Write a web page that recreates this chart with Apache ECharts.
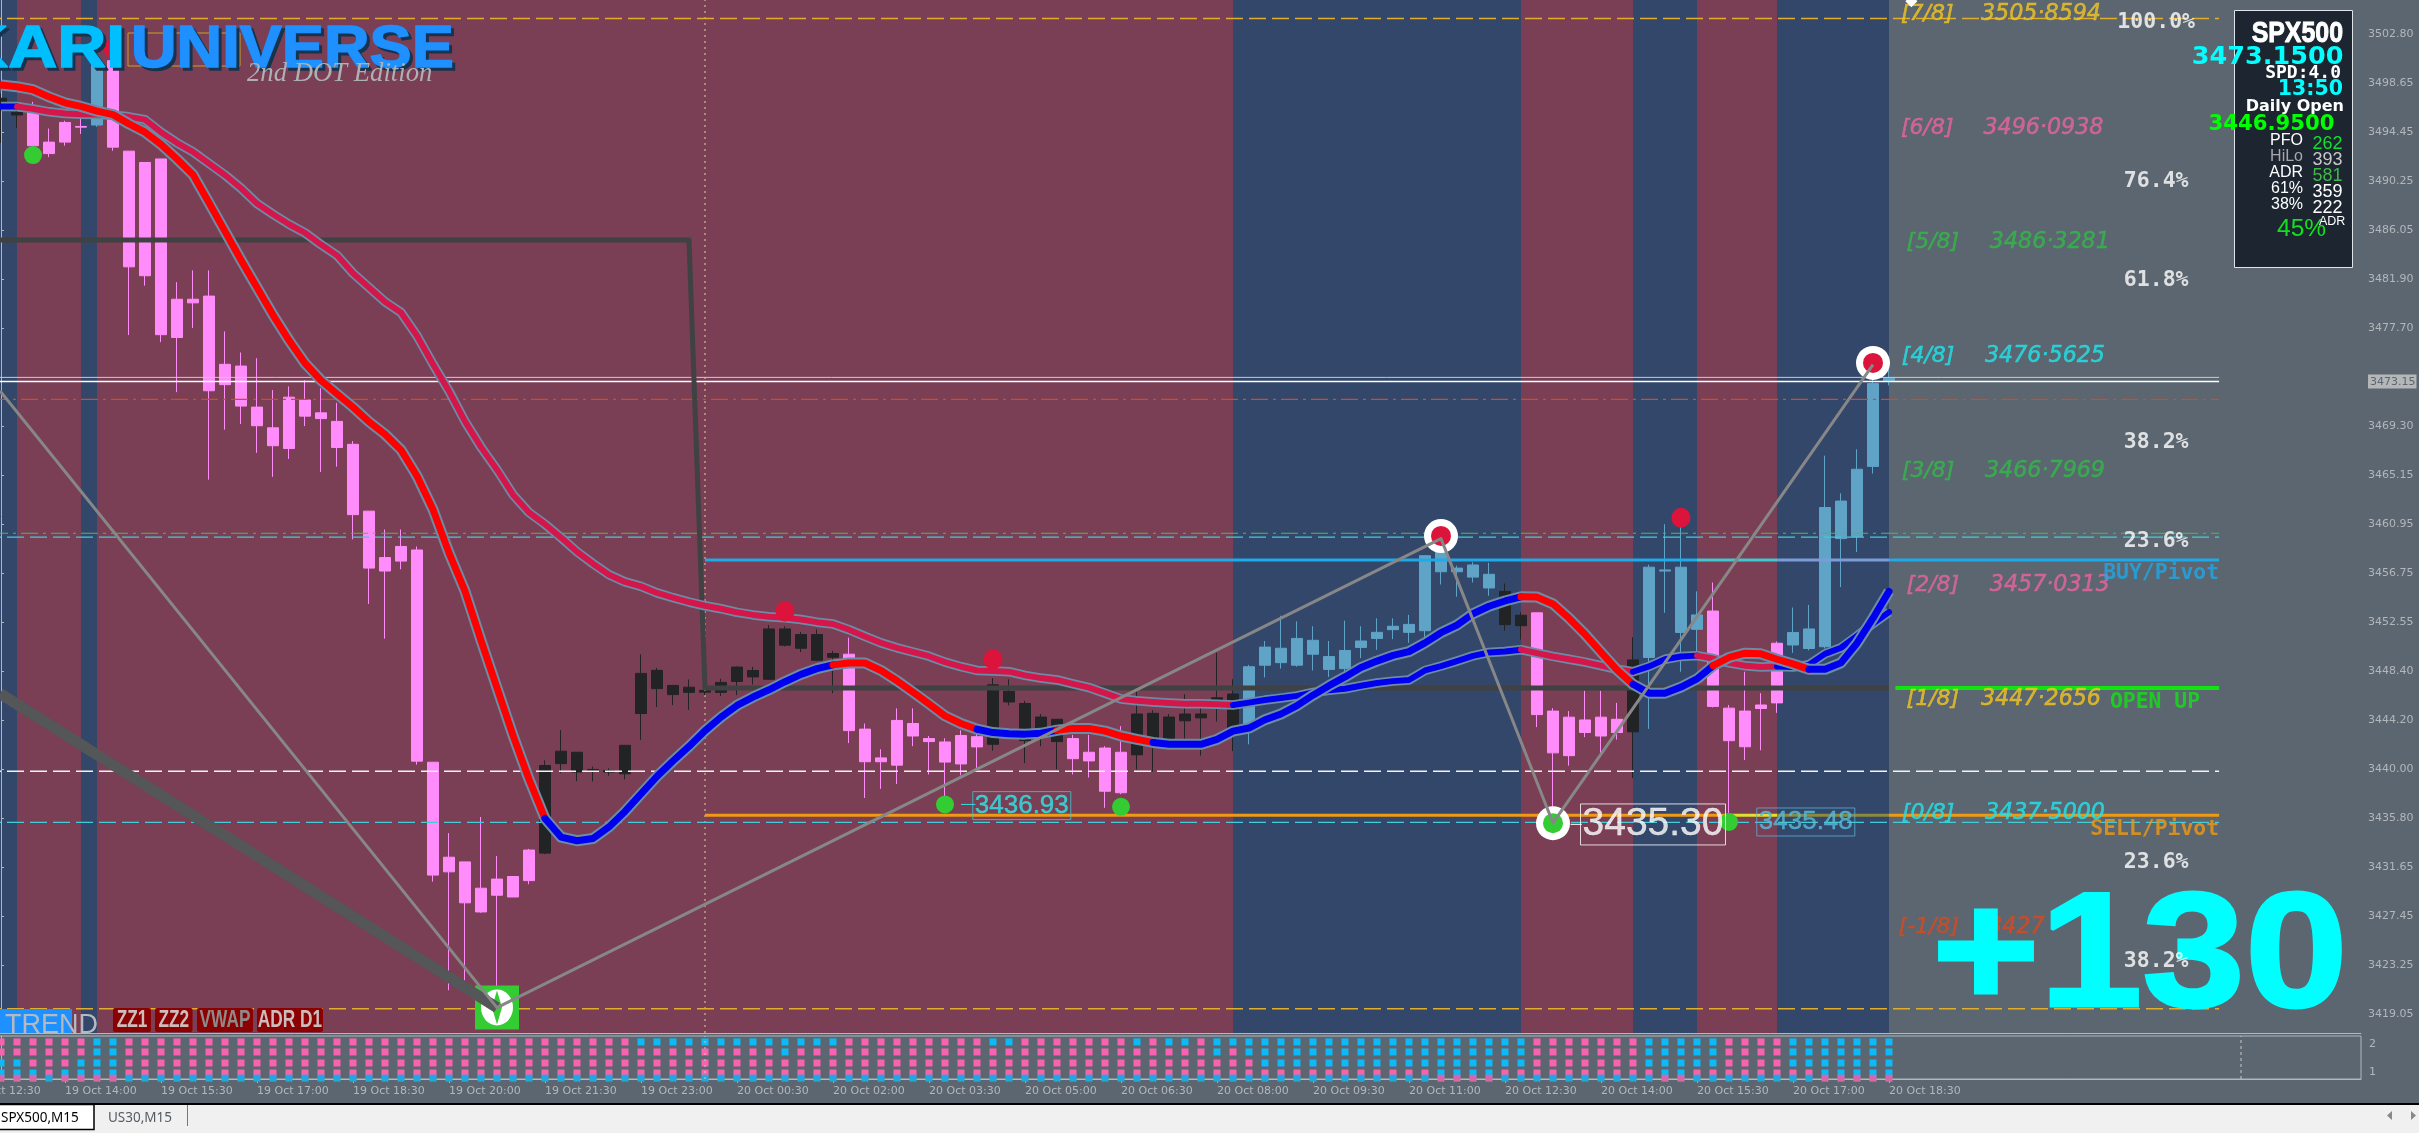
<!DOCTYPE html>
<html><head><meta charset="utf-8">
<script src="https://cdn.jsdelivr.net/npm/echarts@6/dist/echarts.min.js"></script>
<style>html,body{margin:0;padding:0;background:#5b6670;overflow:hidden}#c{width:2419px;height:1133px}</style>
</head><body><div id="c"></div>
<script>
// ---------- data ----------
const xTickLabels=['19 Oct 12:30','19 Oct 14:00','19 Oct 15:30','19 Oct 17:00','19 Oct 18:30','19 Oct 20:00','19 Oct 21:30','19 Oct 23:00','20 Oct 00:30','20 Oct 02:00','20 Oct 03:30','20 Oct 05:00','20 Oct 06:30','20 Oct 08:00','20 Oct 09:30','20 Oct 11:00','20 Oct 12:30','20 Oct 14:00','20 Oct 15:30','20 Oct 17:00','20 Oct 18:30'];
const yTickValues=[3502.80,3498.65,3494.45,3490.25,3486.05,3481.90,3477.70,3473.15,3469.30,3465.15,3460.95,3456.75,3452.55,3448.40,3444.20,3440.00,3435.80,3431.65,3427.45,3423.25,3419.05];
// body top, body bottom, low, high for every M15 bar
const candles=[
[3497.36,3496.75,3493.55,3497.76],[3496.14,3495.93,3494.83,3496.6],[3496.6,3493.3,3492.48,3497.06],[3493.61,3492.63,3492.33,3494.77],[3495.29,3493.61,3493.3,3495.44],[3494.95,3494.89,3494.31,3495.68],[3500.26,3495.07,3494.92,3501.18],[3500.57,3493.18,3492.87,3502.1],[3492.84,3482.95,3477.12,3492.84],[3491.87,3482.19,3481.34,3491.87],
[3492.17,3477.15,3476.51,3492.17],[3480.18,3476.91,3472.24,3481.64],[3480.18,3479.87,3477.73,3482.65],[3480.45,3472.36,3464.76,3482.65],[3474.62,3472.88,3469.03,3477.43],[3474.47,3471.05,3469.52,3475.63],[3470.96,3469.37,3467.05,3475.14],[3469.19,3467.66,3465.0,3472.42],[3471.81,3467.42,3466.53,3472.73],[3471.57,3470.19,3469.34,3473.25],
[3470.47,3469.98,3465.41,3472.58],[3469.74,3467.51,3465.87,3471.32],[3467.78,3461.77,3459.66,3468.06],[3462.07,3457.2,3454.14,3462.07],[3458.1,3456.95,3451.17,3460.5],[3459.05,3457.8,3457.1,3460.5],[3458.75,3440.7,3440.4,3459.05],[3440.61,3430.96,3430.4,3440.61],[3432.49,3431.24,3421.12,3434.55],[3432.09,3428.59,3421.97,3432.09],
[3429.84,3427.81,3427.74,3435.93],[3430.62,3429.24,3421.34,3432.59],[3430.84,3429.09,3429.09,3430.84],[3433.1,3430.49,3430.18,3433.2],[3440.33,3432.84,3432.74,3440.77],[3441.55,3440.49,3439.68,3443.36],[3441.46,3439.77,3438.99,3441.46],[3439.99,3439.86,3438.96,3440.24],[3439.9,3439.77,3439.46,3440.08],[3442.05,3439.62,3439.15,3442.05],
[3448.2,3444.77,3442.52,3449.83],[3448.46,3446.9,3445.33,3448.67],[3447.17,3446.39,3445.49,3447.17],[3447.02,3446.58,3445.08,3447.68],[3446.75,3446.6,3446.27,3447.0],[3447.43,3446.58,3446.27,3447.74],[3448.74,3447.51,3446.34,3448.8],[3448.45,3447.9,3447.25,3448.77],[3452.0,3447.7,3447.64,3452.33],[3452.0,3450.61,3450.5,3452.23],
[3451.52,3450.35,3450.03,3451.74],[3451.52,3449.32,3449.25,3451.97],[3449.9,3449.58,3446.51,3450.13],[3449.84,3443.31,3442.24,3451.26],[3443.44,3440.65,3437.55,3443.92],[3440.98,3440.65,3438.33,3441.72],[3444.18,3440.36,3438.75,3445.21],[3443.92,3442.85,3441.98,3445.21],[3442.63,3442.37,3439.56,3442.85],[3442.34,3440.62,3437.62,3442.66],
[3442.89,3440.46,3439.49,3443.34],[3442.79,3441.92,3439.88,3443.11],[3447.22,3442.14,3441.59,3447.8],[3446.67,3445.76,3445.47,3447.7],[3445.63,3442.46,3440.53,3445.86],[3444.47,3443.11,3441.98,3444.73],[3444.28,3442.37,3440.01,3444.28],[3442.63,3440.91,3439.56,3442.95],[3441.46,3440.72,3439.3,3442.95],[3441.82,3438.13,3436.71,3441.98],
[3441.46,3438.0,3437.87,3443.69],[3444.73,3441.24,3439.98,3446.67],[3444.79,3442.3,3439.81,3445.05],[3444.47,3442.63,3442.5,3444.73],[3444.73,3444.15,3442.63,3446.41],[3444.73,3444.4,3441.17,3446.02],[3446.12,3445.86,3444.08,3449.97],[3446.44,3443.43,3441.56,3447.7],[3448.77,3443.82,3442.14,3448.93],[3450.45,3448.9,3447.86,3450.97],
[3450.35,3449.12,3448.61,3453.13],[3451.19,3448.9,3448.77,3452.65],[3451.03,3449.84,3448.45,3452.23],[3449.64,3448.54,3447.9,3450.97],[3450.16,3448.61,3447.7,3452.71],[3450.97,3450.42,3449.51,3452.23],[3451.71,3451.19,3450.22,3452.91],[3452.23,3451.94,3451.13,3452.91],[3452.39,3451.71,3450.81,3453.2],[3458.26,3451.85,3451.15,3458.26],
[3458.87,3456.89,3455.8,3458.87],[3457.2,3456.89,3454.75,3457.41],[3457.47,3456.43,3455.97,3457.71],[3456.67,3455.5,3454.84,3457.65],[3455.21,3452.37,3451.85,3455.88],[3453.17,3452.28,3451.09,3453.44],[3453.38,3444.68,3443.61,3453.38],[3444.98,3441.41,3435.67,3445.23],[3444.46,3441.17,3440.31,3444.98],[3444.22,3443.15,3442.75,3446.72],
[3444.46,3442.85,3441.32,3446.72],[3444.28,3443.15,3442.54,3445.68],[3449.35,3443.21,3439.25,3451.3],[3457.28,3449.56,3443.46,3457.5],[3457.04,3456.95,3453.38,3460.95],[3457.28,3451.7,3448.34,3460.86],[3453.2,3451.97,3450.02,3455.21],[3453.53,3445.38,3445.29,3455.97],[3445.23,3442.45,3436.28,3445.5],[3444.98,3441.93,3440.8,3448.34],
[3445.5,3445.2,3441.63,3446.51],[3450.78,3445.68,3444.83,3450.93],[3451.7,3450.63,3449.96,3453.83],[3452.0,3450.33,3450.17,3454.05],[3462.38,3450.48,3450.33,3466.81],[3462.93,3459.72,3455.58,3463.6],[3465.65,3459.91,3458.57,3467.36],[3472.97,3465.89,3465.28,3474.14],[3473.46,3473.16,3472.82,3474.14]];
const candleKindRuns=[['k',2],['p',4],['b',1],['p',27],['k',19],['p',9],['k',5],['p',4],['k',7],['b',16],['k',2],['p',6],['k',1],['b',4],['p',5],['b',7]];
const fastMA=[3498.49,3498.34,3498.09,3497.48,3496.97,3496.66,3496.26,3495.96,3495.17,3494.46,3493.42,3492.17,3490.83,3488.42,3485.98,3483.53,3481.18,3478.83,3476.67,3474.71,3473.25,3472.09,3470.96,3469.71,3468.64,3467.3,3465.07,3462.2,3458.5,3455.23,3451.02,3446.96,3442.9,3439.15,3435.8,3434.21,3433.9,3434.09,3435.08,3436.4,3437.9,3439.4,3440.71,3441.96,3443.3,3444.46,3445.46,3446.18,3446.8,3447.49,3448.12,3448.61,3448.93,3449.09,3449.09,3448.45,3447.57,3446.6,3445.6,3444.57,3443.92,3443.43,3443.14,3443.05,3443.01,3443.08,3443.34,3443.5,3443.5,3443.27,3442.85,3442.56,3442.3,3442.14,3442.14,3442.14,3442.56,3443.27,3443.53,3444.24,3444.73,3445.44,3446.34,3447.15,3447.9,3448.7,3449.25,3449.74,3450.06,3450.81,3451.68,3452.33,3453.3,3453.94,3454.39,3454.75,3454.72,3454.14,3452.92,3451.55,3450.02,3448.5,3447.27,3446.51,3446.51,3447.03,3447.73,3448.86,3449.56,3449.93,3449.87,3449.41,3449.01,3448.55,3448.55,3449.1,3450.78,3452.92,3455.21];
const slowMA=[3496.66,3496.66,3496.45,3496.2,3496.05,3495.99,3495.96,3495.9,3495.77,3495.53,3494.46,3493.55,3492.78,3491.78,3490.8,3489.67,3488.36,3487.44,3486.59,3485.85,3484.85,3483.93,3482.4,3481.18,3479.96,3479.05,3477.06,3474.62,3472.33,3469.74,3467.54,3465.61,3463.48,3461.95,3460.95,3459.81,3458.6,3457.58,3456.64,3456.02,3455.64,3455.08,3454.67,3454.3,3453.98,3453.73,3453.42,3453.2,3453.05,3452.95,3452.81,3452.58,3452.42,3451.94,3451.36,3450.81,3450.39,3450.03,3449.67,3449.16,3448.77,3448.45,3448.41,3448.35,3448.03,3447.8,3447.64,3447.31,3446.99,3446.51,3446.02,3445.86,3445.76,3445.67,3445.6,3445.6,3445.57,3445.5,3445.7,3445.92,3446.09,3446.28,3446.57,3446.76,3446.89,3447.15,3447.38,3447.54,3447.64,3448.45,3448.83,3449.25,3449.7,3449.99,3450.08,3450.23,3449.93,3449.65,3449.41,3449.17,3448.86,3448.55,3448.34,3448.8,3449.41,3449.65,3449.72,3449.47,3449.1,3448.86,3448.74,3448.8,3448.74,3448.95,3449.87,3450.39,3451.4,3452.46,3453.44];
const fastTurns=[0,34,52,61,66,72,95,102,107,113,118];   // starts red
const slowTurns=[0,1,77,95,102,106,111,118];             // starts blue
const trendBandEdges=[-2.5,1,5,6,77,95,102,106,111,118]; // starts blue
const stepHighBarEnd=43, stepHigh=3485.24, stepLow=3446.95;
const levelWhite=[3473.15,3473.5], levelRedDash=3471.63, levelGreenDash=3460.18, levelCyanDash=[3459.85,3435.46], levelWhiteDash=3439.84, levelGold=[3504.17,3419.54];
const buyPivot=3457.9, sellPivot=3436.07, openLine=3446.95;
const pivotStart=44, levelEnd=138.63;
const buyPivotEdges=[44,106,111,118,138.63], sellPivotEdges=[44,108,111,118,138.63];
const zigzag=[[-0.06,3472.34],[31,3419.63],[90,3459.72],[97,3435.42],[117,3474.6]];
const thickTrend=[[-0.06,3446.49],[31,3419.63]];
const greenDots=[[2,3492.5],[59,3437.0],[70,3436.8],[108,3435.5]];
const redDots=[[7,3501.65],[49,3453.5],[62,3449.4],[105,3461.5]];
const ringRed=[[90,3459.95],[117,3474.74]], ringGreen=[[97,3435.4]];
const murreyTags=['[7/8]','[6/8]','[5/8]','[4/8]','[3/8]','[2/8]','[1/8]','[0/8]','[-1/8]'];
const murreyTexts=['3505·8594','3496·0938','3486·3281','3476·5625','3466·7969','3457·0313','3447·2656','3437·5000','3427'];
const murreyTagY=[3504.56,3494.82,3485.07,3475.33,3465.5,3455.76,3445.96,3436.27,3426.53];
const fibTexts=['100.0%','76.4%','61.8%','38.2%','23.6%','23.6%','38.2%'];
const fibY=[3503.88,3490.29,3481.83,3467.98,3459.52,3432.08,3423.62];
const subRowValues=[2.096,1.727,1.32,0.95,0.76];
const subRowRuns=[
[['p',6],['b',2],['p',32],['b',13],['p',9],['b',2],['p',7],['b',1],['p',1],['b',2],['p',1],['b',20],['p',7],['b',5],['p',4],['b',7]],
[['p',6],['b',2],['p',41],['b',1],['p',26],['b',1],['p',1],['b',18],['p',7],['b',5],['p',4],['b',7]],
[['b',2],['p',3],['b',3],['p',71],['b',17],['p',7],['b',5],['p',4],['b',7]],
[['b',3],['p',1],['b',4],['p',82],['b',4],['p',10],['b',2],['p',8],['b',5]],
[['p',3],['b',1],['p',4],['b',82],['p',4],['b',10],['p',2],['b',8],['p',5]]];

// ---------- style ----------
const BG='#5b6670', RED='#7a3f54', BLU='#33476b', AX='#b2b7bb';
const kindCol={p:'#ff8cfa',b:'#5fa3c7',k:'#222325'};
const expand=r=>r.flatMap(([s,n])=>Array(n).fill(s));
const kinds=expand(candleKindRuns);
const categories=[];for(let k=0;k<150;k++)categories.push(k%6===0&&xTickLabels[k/6]?xTickLabels[k/6]:'');
const candleData=[{value:['-','-','-','-']},{value:['-','-','-','-']}].concat(candles.map((c,i)=>{const col=kindCol[kinds[i]];
  return {value:[c[0],c[1],c[2],c[3]],itemStyle:{color:col,color0:col,borderColor:col,borderColor0:col,borderWidth:1}};}));
const line=(data,color,width,z,type)=>({type:'line',xAxisIndex:1,yAxisIndex:0,data,symbol:'none',silent:true,z,lineStyle:{color,width,type:type||'solid',cap:'butt',join:'round'}});
const DASH=[17,6],DD=[17,5,3,5];
const hl=(p,color,width,type,from)=>line([[from===undefined?-2.5:from,p],[levelEnd,p]],color,width,15,type);
const seg=(vals,turns,cols,z,w)=>{const out=[];for(let s=0;s+1<turns.length;s++){const d=[];for(let i=turns[s];i<=turns[s+1];i++)d.push([i,vals[i]]);
   const l=line(d,cols[s%2],w,z);l.lineStyle.cap='round';out.push(l);}return out;};
const whole=v=>v.map((y,i)=>[i,y]);
const scatter=(data,symbol,size,color,z)=>({type:'scatter',xAxisIndex:1,yAxisIndex:0,data,symbol,symbolSize:size,itemStyle:{color,opacity:1},silent:true,z});
const labels=(items,z)=>({type:'scatter',xAxisIndex:1,yAxisIndex:0,symbolSize:0,silent:true,z,data:items.map(t=>({value:[t.v,t.p],label:Object.assign({show:true,formatter:t.text,position:t.pos||'right',distance:0,color:t.color,fontFamily:t.ff||'DejaVu Sans',fontSize:t.fs,fontWeight:t.fw||'normal',fontStyle:t.st||'normal'},t.extra||{})}))});
const murCols=['#f2c522','#e8649e','#33b84a','#22e4ea','#33b84a','#e8649e','#f2c522','#22e4ea','#d84a1e'];
const tagV=[118.75,118.75,119.1,118.8,118.8,119.1,119.1,118.8,118.6], valV=[123.75,123.9,124.3,124,124,124.3,123.75,124,124.2];
const mono='DejaVu Sans Mono';

const series=[];
// trend bands
const bandPieces=[];for(let b=0;b+1<trendBandEdges.length;b++)bandPieces.push([{xAxis:trendBandEdges[b],itemStyle:{color:b%2?RED:BLU,opacity:1}},{xAxis:trendBandEdges[b+1]}]);
series.push({type:'line',xAxisIndex:1,yAxisIndex:0,data:[],z:0,silent:true,markArea:{silent:true,z:0,data:bandPieces}});
// candles
series.push({type:'candlestick',xAxisIndex:0,yAxisIndex:0,data:candleData,barWidth:11,z:10,silent:true,clip:true});
// levels
series.push(hl(levelGold[0],'#e3ad2c',1.4,DASH),hl(levelGold[1],'#e3ad2c',1.4,DASH));
series.push(hl(levelWhite[1],'#c8ccd0',1),hl(levelWhite[0],'#ffffff',1.5));
series.push(hl(levelRedDash,'#d9481f',1.2,DD),hl(levelGreenDash,'#56b84e',1.2,DD));
series.push(hl(levelCyanDash[0],'#43cbd8',1.2,DASH),hl(levelCyanDash[1],'#43cbd8',1.2,DASH));
series.push(hl(levelWhiteDash,'#f2f2f2',1.5,DASH));
['#1ea9e8','#40c8d0','#7d9bd8','#1ea9e8'].forEach((c,i)=>series.push(line([[buyPivotEdges[i],buyPivot],[buyPivotEdges[i+1],buyPivot]],c,3,16)));
['#f09a12','#e0e02e','#8c8a3c','#f09a12'].forEach((c,i)=>series.push(line([[sellPivotEdges[i],sellPivot],[sellPivotEdges[i+1],sellPivot]],c,3,16)));
// stepped open line
const stepLine=[];for(let i=-2;i<=118;i++)stepLine.push([i,i<=stepHighBarEnd?stepHigh:stepLow]);
series.push(line(stepLine,'#404142',5,17));
series.push(line([[118.4,openLine],[levelEnd,openLine]],'#12e412',4,17));
// vertical cursor
series.push(line([[44,3417.465],[44,3505.757]],'#d8d8a0',1,14,[2,4]));
// moving averages
series.push(line(whole(slowMA),'#6c8ba6',9.5,20),...seg(slowMA,slowTurns,['#0000ee','#d5164a'],21,6));
series.push(line(whole(fastMA),'#6c8ba6',11,22),...seg(fastMA,fastTurns,['#ff0000','#0000ee'],23,7));
// logo square below the lines
const logoSpot=[[31,3419.65]];
series.push(scatter(logoSpot,'rect',[44,44],'#33cc33',24),scatter(logoSpot,'circle',[32,36],'#ffffff',25),scatter(logoSpot,'diamond',[10,34],'#33cc33',26));
// swing lines
series.push(line(thickTrend,'#555657',11,30));
series.push(scatter(ringRed.concat(ringGreen),'circle',34,'#ffffff',27),scatter(ringRed,'circle',20,'#dc143c',28),scatter(ringGreen,'circle',20,'#33cc33',28));
series.push(line(zigzag,'#878787',3,31));
series.push(scatter(greenDots,'circle',18,'#33cc33',32),scatter(redDots,'circle',[19,20],'#dc143c',32));
// connectors
series.push(line([[60,3437.0],[60.9,3437.0]],'#30dede',1,33),line([[98.1,3435.3],[98.8,3435.3]],'#ffffff',1,33));
// text tied to the price scale
const mur=[];murreyTags.forEach((t,i)=>{mur.push({v:tagV[i],p:murreyTagY[i],text:t,color:murCols[i],fs:22,st:'italic',extra:{textBorderColor:murCols[i],textBorderWidth:0.5}});mur.push({v:valV[i],p:murreyTagY[i],text:murreyTexts[i],color:murCols[i],fs:22.2,st:'italic',extra:{textBorderColor:murCols[i],textBorderWidth:0.5}});});
series.push(labels(mur,40));
series.push(labels(fibTexts.map((t,i)=>({v:134.7,p:fibY[i],text:t,pos:'inside',color:'#fff',fs:21.5,fw:'bold',ff:mono})),60));
series.push(labels([{v:levelEnd,p:3456.74,text:'BUY/Pivot',pos:'left',color:'#1ea9e8',fs:21.4,fw:'bold',ff:mono},{v:levelEnd,p:3434.9,text:'SELL/Pivot',pos:'left',color:'#f09a12',fs:21.4,fw:'bold',ff:mono},{v:137.44,p:3445.76,text:'OPEN UP',pos:'left',color:'#12e412',fs:21.4,fw:'bold',ff:mono}],41));
const box=(col,txt)=>({borderColor:col,borderWidth:1,padding:[2,2,0,2],textBorderColor:txt,textBorderWidth:0.4});
series.push(labels([{v:63.8,p:3436.9,text:'3436.93',pos:'inside',color:'#2de8e8',fs:26,ff:'Liberation Sans',extra:box('#2fd0d8','#2de8e8')},{v:103.25,p:3435.29,text:'3435.30',pos:'inside',color:'#ffffff',fs:39,ff:'Liberation Sans',extra:box('#ffffff','#ffffff')},{v:112.8,p:3435.5,text:'3435.48',pos:'inside',color:'#58bcd8',fs:26,ff:'Liberation Sans',extra:box('#5ab0d4','#58bcd8')}],42));
// top marker
series.push(scatter([[119.4,3505.66]],'diamond',12,'#ffffff',43));
// sub-window matrix
const subCol={p:'#f862ae',b:'#0db9f6'};
subRowRuns.forEach((runs,r)=>{series.push({type:'scatter',xAxisIndex:3,yAxisIndex:1,symbol:'rect',symbolSize:7,silent:true,z:5+r,clip:true,
  data:expand(runs).map((s,i)=>({value:[i,subRowValues[r]],itemStyle:{color:r===4?(s==='p'?'#d868a8':'#20a8e0'):subCol[s],opacity:1}}))});});
series.push({type:'line',xAxisIndex:3,yAxisIndex:1,symbol:'none',silent:true,z:12,data:[[44,0.73],[44,2.315]],lineStyle:{color:'#c8c8c8',width:1,type:[2,4]}});
series.push({type:'line',xAxisIndex:3,yAxisIndex:1,symbol:'none',silent:true,z:12,data:[[140,0.73],[140,2.315]],lineStyle:{color:'#c8c8c8',width:1,type:[3,3]}});

// ---------- overlay text (terminal widgets) ----------
const T=(x,y,text,font,fill,o={})=>({type:'text',x,y,z:o.z||80,silent:true,scaleX:o.sx||1,scaleY:o.sy||1,style:{text,font,fill,align:o.align||'left',verticalAlign:o.va||'middle',stroke:o.stroke,lineWidth:o.lw||0}});
const R=(x,y,w,h,fill,o={})=>({type:'rect',z:o.z||78,silent:true,shape:{x,y,width:w,height:h,r:o.r||0},style:{fill,stroke:o.stroke,lineWidth:o.lw||0}});
const ds='"DejaVu Sans"',ar='"Liberation Sans"';
const btn=(x,w,label,col,sx)=>[R(x,1008,w,24,'#8b0000',{r:2,z:70}),T(x+w/2,1020,label,'bold 24px '+ar,col,{align:'center',sx,z:71})];
const graphic=[
 // logo
 R(128,33,112,33,'none',{stroke:'#c9a422',lw:1,z:60}),
 T(128,54,'KARI','900 59px '+ar,'#16344f',{align:'right',sx:1.15,z:61,stroke:'#16344f',lw:1.5}),T(125,51,'KARI','900 59px '+ar,'#00bfff',{align:'right',sx:1.15,z:62,stroke:'#00bfff',lw:1.5}),
 T(134,54,'UNIVERSE','900 59px '+ar,'#16344f',{sx:1.07,z:63,stroke:'#16344f',lw:1.5}),T(131,51,'UNIVERSE','900 59px '+ar,'#1e90ff',{sx:1.07,z:64,stroke:'#1e90ff',lw:1.5}),
 T(247,74,'2nd DOT Edition','italic 26.7px "Liberation Serif"','#aeb0b4',{z:65}),
 // +130
 T(1932,961,'+130','bold 164px '+ar,'#00ffff',{sx:1.125,z:50,stroke:'#00ffff',lw:3}),
 // TREND & buttons
 R(0,1009,72,24,'#1e90ff',{z:70}),T(5,1026,'TREND','27px '+ar,'#b4bac2',{z:71}),
 ...btn(113,38,'ZZ1','#cdbcbc',.72),...btn(155,37.5,'ZZ2','#cdbcbc',.72),...btn(197,56,'VWAP','#8f8989',.72),...btn(257,66,'ADR D1','#cdbcbc',.72),
 // HUD
 R(2234.5,10.5,118,257,'#1c2530',{stroke:'#dfe3ea',lw:1}),
 T(2343,34,'SPX500','bold 30px '+ar,'#fff',{align:'right',sx:.83,stroke:'#fff',lw:1}),
 T(2343.5,57,'3473.1500','bold 25.5px '+ds,'#00ffff',{align:'right'}),
 T(2341,73,'SPD:4.0','bold 18px "DejaVu Sans Mono"','#fff',{align:'right'}),
 T(2343,90,'13:50','bold 20.5px '+ds,'#00ffff',{align:'right'}),
 T(2344,107,'Daily Open','bold 16px '+ds,'#fff',{align:'right'}),
 T(2334.5,124,'3446.9500','bold 21.2px '+ds,'#00ff00',{align:'right'}),
 T(2303,141,'PFO','16px '+ar,'#fff',{align:'right'}),T(2303,157,'HiLo','16px '+ar,'#a8a8ac',{align:'right'}),T(2303,173,'ADR','16px '+ar,'#fff',{align:'right'}),T(2303,189,'61%','16px '+ar,'#fff',{align:'right'}),T(2303,205,'38%','16px '+ar,'#fff',{align:'right'}),
 T(2312.5,144,'262','18px '+ar,'#12e030'),T(2312.5,160,'393','18px '+ar,'#c8c8c8'),T(2312.5,176,'581','18px '+ar,'#40b848'),T(2312.5,192,'359','18px '+ar,'#fff'),T(2312.5,208,'222','18px '+ar,'#fff'),
 T(2277,229,'45%','24.5px '+ar,'#12e020'),T(2319,222,'ADR','12.5px '+ar,'#fff'),
 // terminal tabs
 R(0,1104,2419,29,'#f0f0f0',{z:70}),R(0,1103,2419,2,'#000',{z:71}),
 R(-2,1104.5,96,25,'#fff',{stroke:'#000',lw:1.5,z:72}),
 T(1,1118,'SPX500,M15','13.5px "Noto Sans"','#000',{z:73}),T(108,1118,'US30,M15','13.5px "Noto Sans"','#555b63',{z:73}),
 R(187,1105,1,21,'#777',{z:73}),
 {type:'polygon',z:73,silent:true,shape:{points:[[2392,1111],[2392,1120],[2387,1115.5]]},style:{fill:'#888'}},
 {type:'polygon',z:73,silent:true,shape:{points:[[2411,1111],[2411,1120],[2416,1115.5]]},style:{fill:'#888'}}
];

const chart=echarts.init(document.getElementById('c'),null,{renderer:'canvas',width:2419,height:1133});
const catBase={type:'category',data:categories,boundaryGap:true};
chart.setOption({
 animation:false,backgroundColor:BG,
 grid:[{left:-39,top:0,width:2400,height:1033,containLabel:false,outerBoundsMode:'none'},{left:-39,top:1036,width:2400,height:43,show:true,borderColor:AX,borderWidth:1,backgroundColor:'transparent',containLabel:false,outerBoundsMode:'none'}],
 xAxis:[
  Object.assign({},catBase,{gridIndex:0,axisLine:{show:true,lineStyle:{color:AX,width:1}},axisTick:{show:false},axisLabel:{show:false},splitLine:{show:false}}),
  {type:'value',gridIndex:0,min:-2.5,max:147.5,show:false,splitLine:{show:false}},
  Object.assign({},catBase,{gridIndex:1,axisLine:{show:true,lineStyle:{color:AX}},axisTick:{show:true,length:4,alignWithLabel:true,interval:(i,v)=>v!=='',lineStyle:{color:AX}},
    axisLabel:{show:true,interval:(i,v)=>v!=='',align:'left',color:AX,fontFamily:'DejaVu Sans',fontSize:11,margin:7,hideOverlap:false},splitLine:{show:false}}),
  {type:'value',gridIndex:1,min:-2.5,max:147.5,show:false,splitLine:{show:false}}
 ],
 yAxis:[
  {type:'value',gridIndex:0,position:'right',min:3417.465,max:3505.757,scale:true,splitLine:{show:false},
   axisLine:{show:true,lineStyle:{color:AX}},axisTick:{show:true,length:3,customValues:yTickValues,lineStyle:{color:AX}},
   axisLabel:{show:true,customValues:yTickValues,margin:7,color:AX,fontFamily:'DejaVu Sans',fontSize:11,hideOverlap:false,
     formatter:v=>{const s=v.toFixed(2);return Math.abs(v-3473.15)<0.001?'{tag|'+s+'}':s;},
     rich:{tag:{backgroundColor:'#b4b6b8',color:'#5b6670',padding:[2,1,1,2],fontFamily:'DejaVu Sans',fontSize:11}}}},
  {type:'value',gridIndex:1,position:'right',min:0.73,max:2.315,splitLine:{show:false},
   axisLine:{show:true,lineStyle:{color:AX}},axisTick:{show:false},
   axisLabel:{show:true,customValues:[1,2],margin:8,color:AX,fontFamily:'DejaVu Sans',fontSize:11,formatter:v=>String(v)}}
 ],
 series,graphic
});
</script></body></html>
